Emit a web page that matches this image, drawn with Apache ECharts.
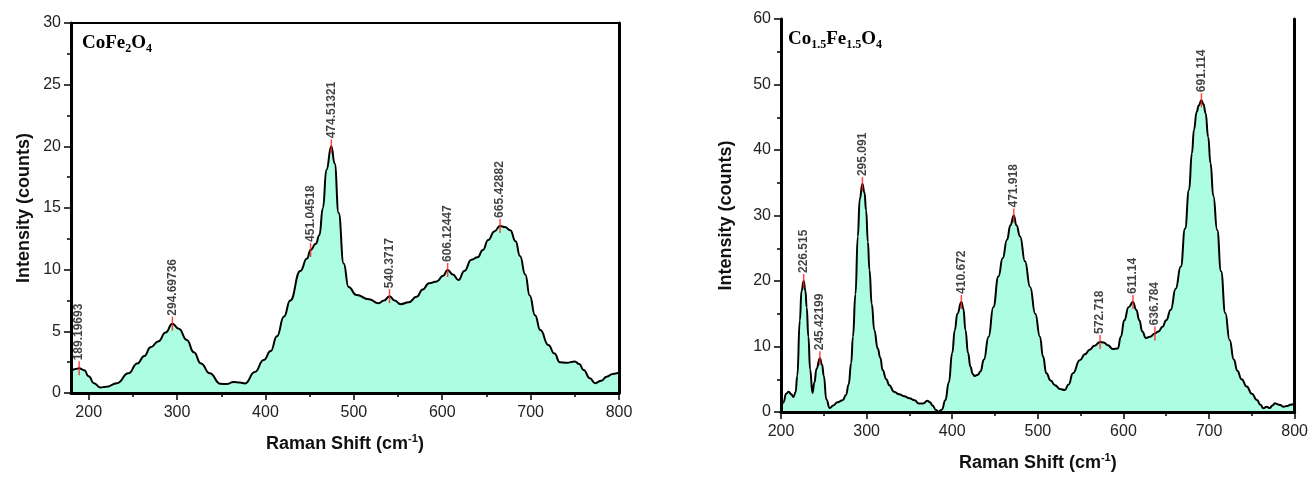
<!DOCTYPE html>
<html>
<head>
<meta charset="utf-8">
<script src="https://cdn.jsdelivr.net/npm/echarts@6/dist/echarts.min.js"></script>
<style>
  html, body { margin: 0; padding: 0; background: #fff; }
  #chart { width: 1311px; height: 477px; }
</style>
</head>
<body>
<div id="chart"></div>
<script>
// CoFe2O4 spectrum (Raman shift, intensity)
const leftShift = [180, 185, 189.2, 195, 200, 206, 213, 220, 232, 245, 255, 263, 270, 279, 287, 294.7, 302, 311, 319, 327,
  337, 349, 356, 364, 371, 377, 388, 398, 406, 413, 421, 428, 439.5, 447, 451.05, 457, 461, 465, 469, 474.5,
  478.3, 482.8, 488.5, 494, 503, 517, 528, 534, 540.4, 546, 553, 562, 571, 578, 585, 594, 601, 606.1, 612, 618.4,
  625, 633, 640, 646, 652, 659, 665.4, 671, 677, 683, 688, 694, 699, 705, 711, 720, 727, 733, 741, 750,
  755, 760, 767, 773, 780, 786, 793, 800];
const leftCounts = [1.73, 1.95, 2.0, 1.85, 1.35, 0.8, 0.45, 0.5, 0.8, 1.6, 2.4, 3.0, 3.7, 4.2, 4.9, 5.62, 5.2, 4.3, 3.3, 2.4,
  1.6, 0.75, 0.72, 0.9, 0.85, 0.78, 1.7, 2.68, 3.4, 4.6, 6.2, 7.5, 9.9, 10.9, 11.6, 12.1, 12.8, 15, 18.1, 20.0,
  18.6, 14.6, 10.5, 8.6, 7.95, 7.6, 7.27, 7.5, 7.85, 7.5, 7.2, 7.35, 7.8, 8.4, 8.9, 9.05, 9.5, 9.97, 9.6, 9.16,
  9.9, 10.8, 11.0, 11.6, 12.4, 13.1, 13.55, 13.45, 13.2, 12.3, 11.1, 9.6, 7.9, 6.3, 5.1, 3.9, 3.2, 2.5, 2.45, 2.55,
  2.35, 1.87, 1.2, 0.8, 1.0, 1.32, 1.55, 1.65];
const leftPeakLabels = ['189.19693', '294.69736', '451.04518', '474.51321', '540.3717', '606.12447', '665.42882'];
const leftPeakCounts = [2.0, 5.62, 11.6, 20.0, 7.85, 9.97, 13.55];

// Co1.5Fe1.5O4 spectrum
const rightShift = [200, 203, 206, 209, 212, 214.5, 217, 219, 222, 224, 226.5, 228.5, 230, 232, 234, 236.8, 239, 241.5, 245.4, 248,
  250, 253, 256.9, 261, 266, 272, 276, 279, 282, 284, 287, 289.7, 292, 295.1, 297.5, 299.4, 301.5, 303.3, 306, 309,
  313, 316, 318.7, 323, 326.5, 332, 338, 344, 350, 356, 361, 366, 371, 374, 377, 381, 384, 388, 392, 396,
  400, 403, 406, 410.7, 413, 415.5, 418.5, 421.3, 424, 426.3, 430, 433, 437, 442.5, 448, 454, 459, 464, 468, 471.9,
  475, 479.3, 485, 491, 497, 502.5, 506, 510, 515, 520, 526, 531.5, 536, 541, 549, 555, 560.6, 566, 572.7, 577,
  581.8, 587.6, 593.4, 597, 601, 606, 611.1, 615, 618.6, 622, 626.3, 631, 636.8, 641, 645.6, 650, 655.3, 661, 667, 672,
  676.6, 680, 682.4, 685.5, 688, 691.1, 693.5, 696, 699, 701.7, 705, 709.5, 714, 719, 724, 729, 733, 738, 744, 750,
  756, 760, 763.6, 767, 771, 774, 777, 780, 783, 787, 791, 795, 798.5, 800];
const rightCounts = [0.1, 1.5, 2.8, 3.1, 2.7, 2.3, 3.0, 5.5, 14, 18.5, 20.0, 18.5, 16, 11.5, 6.5, 2.9, 4.5, 6.6, 8.2, 7.2,
  5.5, 1.9, 0.6, 1.0, 1.5, 1.8, 2.6, 4.2, 7.5, 11.5, 18, 26.8, 32.5, 34.8, 33.5, 30.8, 26, 21.7, 16.5, 12.5,
  9.7, 8.3, 6.4, 5.0, 4.1, 3.1, 2.7, 2.4, 2.1, 1.8, 1.3, 1.3, 1.7, 1.5, 1.0, 0.3, 0.05, 0.4, 1.8, 4.5,
  9, 12.5, 15, 16.8, 15.8, 12.5, 9, 6.9, 5.8, 5.5, 5.7, 6.2, 8, 11.5, 16, 20.7, 23.5, 26.3, 28.5, 30.0,
  28.5, 26.8, 23, 19.1, 15, 11.5, 8.5, 5.9, 4.8, 4.1, 3.5, 3.36, 4.2, 5.9, 7.9, 8.8, 9.5, 10.1, 10.7, 10.6,
  10.2, 9.6, 9.7, 11.5, 14, 16, 16.8, 15.6, 14, 12.3, 11.3, 11.5, 12.0, 12.3, 13.0, 14, 15.6, 18.8, 22.2, 28,
  33.9, 39.5, 43.1, 45.8, 46.8, 47.6, 47, 45.6, 42, 38, 33, 27.8, 21.5, 15.1, 11, 8, 6.3, 5.0, 3.9, 2.8,
  1.83, 1.1, 0.56, 0.8, 0.6, 1.0, 1.33, 1.2, 1.07, 0.8, 0.9, 1.1, 1.2, 1.3];
const rightPeakLabels = ['226.515', '245.42199', '295.091', '410.672', '471.918', '572.718', '611.14', '636.784', '691.114'];
const rightPeakCounts = [20.0, 8.2, 34.8, 16.8, 30.0, 10.7, 16.8, 12.0, 47.6];

const xMajorLeft = [200, 300, 400, 500, 600, 700, 800];
const xMinorLeft = [250, 350, 450, 550, 650, 750];

const zip = (a, b) => a.map((v, i) => [v, b[i]]);
const peaks = (labels, counts) => labels.map((s, i) => ({ name: s, value: [parseFloat(s), counts[i]] }));

const sans = 'Liberation Sans, Arial, sans-serif';
const serif = 'Liberation Serif, Times New Roman, serif';
const fill = '#adfde2';

const nameRich = {
  a: { fontFamily: sans, fontSize: 18, fontWeight: 'bold', color: '#111', lineHeight: 22 },
  s: { fontFamily: sans, fontSize: 11, fontWeight: 'bold', color: '#111', lineHeight: 22, verticalAlign: 'top' }
};
const titleRich = {
  m: { fontFamily: serif, fontSize: 19, fontWeight: 'bold', color: '#000', lineHeight: 24 },
  s: { fontFamily: serif, fontSize: 12, fontWeight: 'bold', color: '#000', lineHeight: 24, verticalAlign: 'bottom' }
};

function bottomAxis(grid, min, extra) {
  return Object.assign({
    type: 'value', gridIndex: grid, min: min, max: 800, position: 'bottom', z: 5,
    name: '{a|Raman Shift (cm}{s|-1}{a|)}', nameLocation: 'middle', nameGap: 40,
    nameTextStyle: { rich: nameRich },
    axisLine: { lineStyle: { color: '#000', width: 3 } },
    axisTick: { inside: false, length: 7, lineStyle: { color: '#000', width: 1.5 } },
    axisLabel: { fontFamily: sans, fontSize: 16, color: '#222', margin: 12 },
    splitLine: { show: false }
  }, extra);
}
function frameX(grid, min, w) {
  return { type: 'value', gridIndex: grid, min: min, max: 800, position: 'top', z: 5,
    axisLine: { lineStyle: { color: '#000', width: w } },
    axisTick: { show: false }, axisLabel: { show: false }, splitLine: { show: false } };
}
function leftAxis(grid, max, interval, gap) {
  return {
    type: 'value', gridIndex: grid, min: 0, max: max, interval: interval, position: 'left', z: 5,
    name: 'Intensity (counts)', nameLocation: 'middle', nameGap: gap,
    nameTextStyle: { fontFamily: sans, fontSize: 18, fontWeight: 'bold', color: '#111' },
    axisLine: { show: true, lineStyle: { color: '#000', width: 3 } },
    axisTick: { show: true, length: 7, lineStyle: { color: '#000', width: 1.5 } },
    minorTick: { show: true, splitNumber: 2, length: 4, lineStyle: { color: '#000', width: 1.5 } },
    axisLabel: { fontFamily: sans, fontSize: 16, color: '#222', margin: 10 },
    splitLine: { show: false }
  };
}
function frameY(grid, max) {
  return { type: 'value', gridIndex: grid, min: 0, max: max, position: 'right', z: 5,
    axisLine: { show: true, lineStyle: { color: '#000', width: 3 } },
    axisTick: { show: false }, axisLabel: { show: false }, splitLine: { show: false } };
}
function curve(xi, yi, data) {
  return { type: 'line', xAxisIndex: xi, yAxisIndex: yi, data: data, smooth: 0.5, smoothMonotone: 'x',
    showSymbol: false, z: 2,
    lineStyle: { color: '#000', width: 2 }, areaStyle: { color: fill, opacity: 1 } };
}
function marks(xi, yi, data) {
  return { type: 'scatter', xAxisIndex: xi, yAxisIndex: yi, data: data, z: 4,
    symbol: 'rect', symbolSize: [1.5, 14], itemStyle: { color: '#ff1a1a' },
    label: { show: true, formatter: '{b}', position: 'top', distance: 1, rotate: 90,
      align: 'left', verticalAlign: 'middle',
      fontFamily: sans, fontSize: 12, fontWeight: 'bold', color: '#111' } };
}

const chart = echarts.init(document.getElementById('chart'));
chart.setOption({
  animation: false,
  title: [
    { text: '{m|CoFe}{s|2}{m|O}{s|4}', left: 77, top: 26, textStyle: { rich: titleRich } },
    { text: '{m|Co}{s|1.5}{m|Fe}{s|1.5}{m|O}{s|4}', left: 783, top: 22, textStyle: { rich: titleRich } }
  ],
  grid: [
    { left: 71, top: 23, width: 548, height: 370 },
    { left: 781, top: 19, width: 517, height: 393 }
  ],
  xAxis: [
    bottomAxis(0, 180, {
      axisTick: { length: 7, customValues: xMajorLeft, lineStyle: { color: '#000', width: 1.5 } },
      axisLabel: { fontFamily: sans, fontSize: 16, color: '#222', margin: 12, customValues: xMajorLeft }
    }),
    { type: 'value', gridIndex: 0, min: 180, max: 800, position: 'bottom', z: 5,
      axisLine: { show: false },
      axisTick: { length: 4, customValues: xMinorLeft, lineStyle: { color: '#000', width: 1.5 } },
      axisLabel: { show: false }, splitLine: { show: false } },
    frameX(0, 180, 2),
    bottomAxis(1, 200, {
      interval: 100,
      minorTick: { show: true, splitNumber: 2, length: 4, lineStyle: { color: '#000', width: 1.5 } }
    }),
    frameX(1, 200, 1.5)
  ],
  yAxis: [
    leftAxis(0, 30, 5, 38),
    frameY(0, 30),
    leftAxis(1, 60, 10, 46),
    frameY(1, 60)
  ],
  series: [
    curve(0, 0, zip(leftShift, leftCounts)),
    marks(0, 0, peaks(leftPeakLabels, leftPeakCounts)),
    curve(3, 2, zip(rightShift, rightCounts)),
    marks(3, 2, peaks(rightPeakLabels, rightPeakCounts))
  ]
});
</script>
</body>
</html>
